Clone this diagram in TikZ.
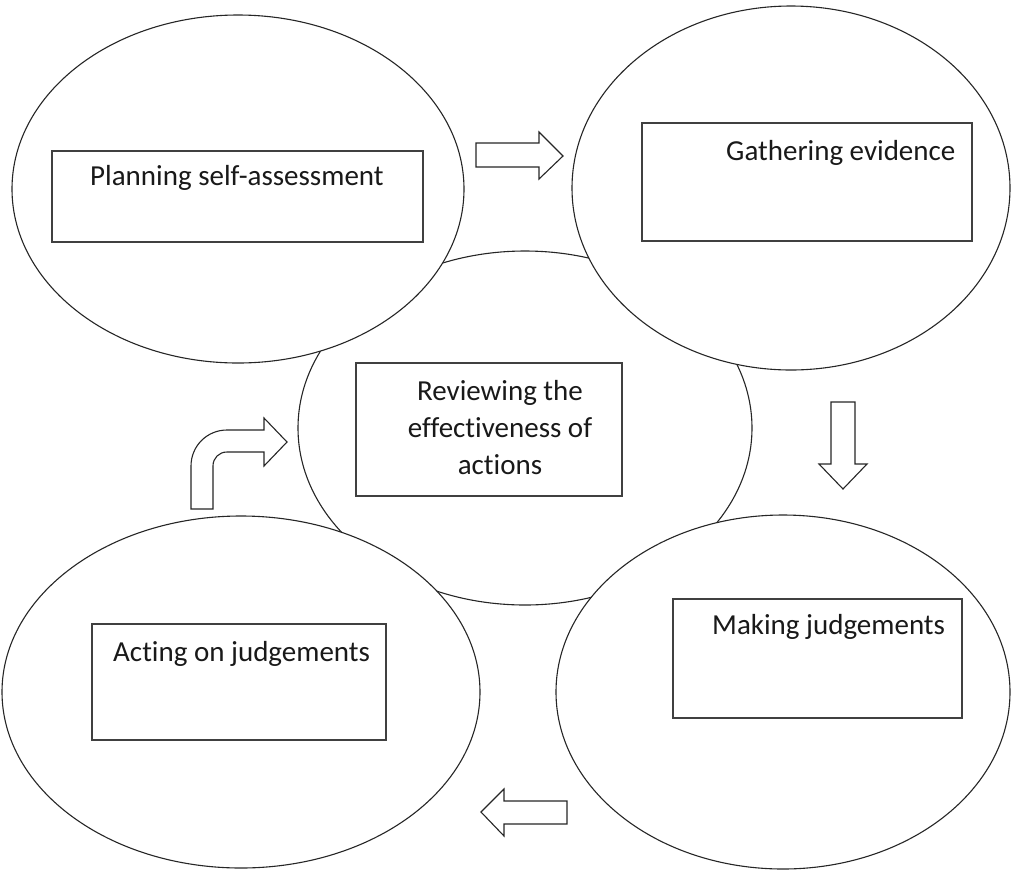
\documentclass[tikz,border=0pt]{standalone}
\usepackage{fontspec}
\setmainfont{Carlito}[Ligatures={NoCommon}]
\usetikzlibrary{shapes.geometric}
\begin{document}
\begin{tikzpicture}[x=1pt,y=-1pt,
  oval/.style={ellipse, draw=black!85, line width=1.1pt, fill=white, inner sep=0pt},
  box/.style={rectangle, draw=black!75, line width=1.3pt, fill=white, inner sep=0pt},
  lbl/.style={inner sep=0pt, font=\fontsize{29}{37}\selectfont, text=black!90},
  blk/.style={draw=black!85, line width=1.1pt, fill=white, line join=miter}]
\useasboundingbox (0,0) rectangle (1013,871);
% ovals
\node[oval, minimum width=454pt, minimum height=354pt] (rev) at (525,428) {};
\node[oval, minimum width=452pt, minimum height=348pt] (plan) at (238,189) {};
\node[oval, minimum width=438pt, minimum height=364pt] (gath) at (791,188) {};
\node[oval, minimum width=478pt, minimum height=352pt] (act) at (241,692) {};
\node[oval, minimum width=454pt, minimum height=354pt] (make) at (783,692) {};
% boxes
\node[box, minimum width=371pt, minimum height=91pt] (planbox) at (237.5,196.5) {};
\node[box, minimum width=330pt, minimum height=118pt] (gathbox) at (807,182) {};
\node[box, minimum width=266pt, minimum height=133pt] (revbox) at (489,429.5) {};
\node[box, minimum width=289pt, minimum height=119pt] (makebox) at (817.5,658.5) {};
\node[box, minimum width=294pt, minimum height=116pt] (actbox) at (239,682) {};
% texts
\node[lbl, anchor=base west] (plantxt) at (90,185) {Planning self-assessment};
\node[lbl, anchor=base west] (gathtxt) at (726,160) {Gathering evidence};
\node[lbl, anchor=base west] (maketxt) at (712,634) {Making judgements};
\node[lbl, anchor=base west] (acttxt) at (113,661) {Acting on judgements};
\node[lbl, align=center, anchor=center] (revtxt) at (500,428) {Reviewing the\\effectiveness of\\actions};
% block arrows
\draw[blk] (476,143) -- (539,143) -- (539,132) -- (563,156) -- (539,179) -- (539,167) -- (476,167) -- cycle;
\draw[blk] (831,402) -- (855,402) -- (855,464) -- (867,464) -- (843,489) -- (819,464) -- (831,464) -- cycle;
\draw[blk] (567,801) -- (504,801) -- (504,789) -- (481,812) -- (504,836) -- (504,824) -- (567,824) -- cycle;
\draw[blk] (191,509) -- (191,466) .. controls (191,446) and (207,430) .. (227,430)
  -- (264,430) -- (264,418) -- (287,442) -- (264,466) -- (264,452) -- (227,452)
  .. controls (219,452) and (213,458) .. (213,466) -- (213,509) -- cycle;
\end{tikzpicture}
\end{document}
